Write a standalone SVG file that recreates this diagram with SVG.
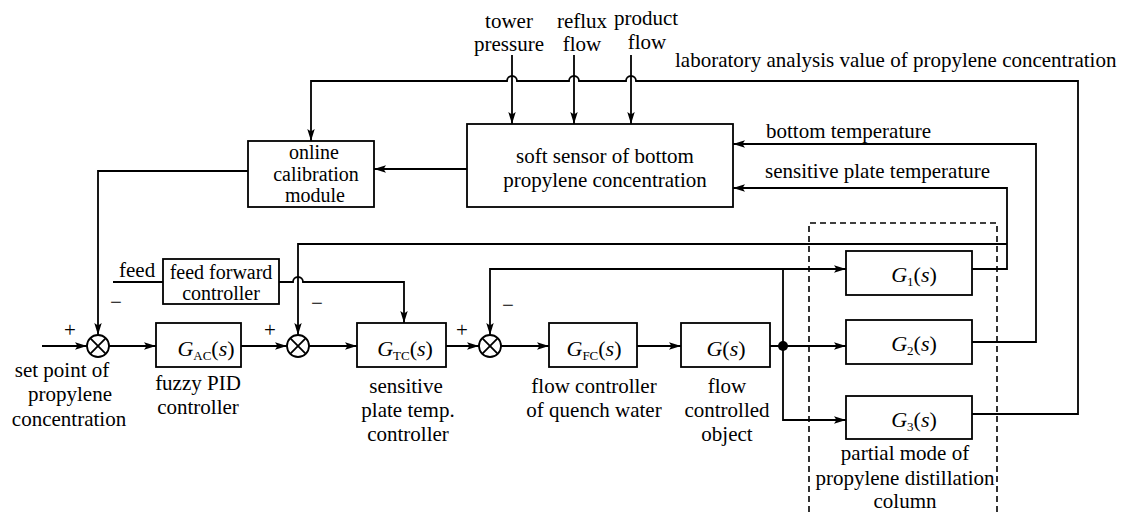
<svg xmlns="http://www.w3.org/2000/svg" width="1124" height="512" viewBox="0 0 1124 512">
<style>
.b{fill:none;stroke:#000;stroke-width:1.8}
.c{fill:none;stroke:#000;stroke-width:1.8}
.a{marker-end:url(#ar)}
.d{fill:none;stroke:#000;stroke-width:1.6;stroke-dasharray:6 4}
text{font-family:'Liberation Serif','DejaVu Serif',serif;font-size:21px;fill:#000}
.m{text-anchor:middle}
.g{font-size:22px}
.i{font-style:italic}
.s{font-size:13px}
.t{font-size:20px}
</style>
<defs>
<marker id="ar" markerUnits="userSpaceOnUse" markerWidth="13" markerHeight="8" refX="12" refY="4" orient="auto">
<path d="M0,0.3 L12,4 L0,7.7 L2.5,4 z" fill="#000"/>
</marker>
</defs>
<rect width="1124" height="512" fill="#fff"/>

<g id="connectors">
<path class="c a" d="M42,346 H87"/>
<path class="c a" d="M109,346 H156"/>
<path class="c a" d="M241,346 H287"/>
<path class="c a" d="M309,346 H357"/>
<path class="c a" d="M446,346 H479"/>
<path class="c a" d="M501,346 H549"/>
<path class="c a" d="M637,346 H681"/>
<path class="c a" d="M770,346 H846"/>
<path class="c a" d="M783,269 V420 H846"/>
<path class="c a" d="M783,269 H846"/>
<path class="c a" d="M783,269 H490 V335"/>
<circle cx="783" cy="346" r="5" fill="#000"/>
<path class="c a" d="M972,269 H1007 V188 H733"/>
<path class="c a" d="M1007,244 H298 V335"/>
<path class="c a" d="M972,342 H1036 V144 H733"/>
<path class="c a" d="M972,414 H1078 V81 H636 A5,5 0 0 0 626,81 H579 A5,5 0 0 0 569,81 H517 A5,5 0 0 0 507,81 H311 V141"/>
<path class="c a" d="M512,55 V124"/>
<path class="c a" d="M574,55 V124"/>
<path class="c a" d="M631,55 V124"/>
<path class="c a" d="M467,169 H374"/>
<path class="c a" d="M248,171 H98 V335"/>
<path class="c" d="M113,282 H163"/>
<path class="c a" d="M279,282 H293 A5,5 0 0 1 303,282 H404 V323"/>
</g>

<g id="sum1"><circle class="b" cx="98" cy="346" r="11"/><path class="b" d="M90.2,338.2 L105.8,353.8 M105.8,338.2 L90.2,353.8"/></g>
<g id="sum2"><circle class="b" cx="298" cy="346" r="11"/><path class="b" d="M290.2,338.2 L305.8,353.8 M305.8,338.2 L290.2,353.8"/></g>
<g id="sum3"><circle class="b" cx="490" cy="346" r="11"/><path class="b" d="M482.2,338.2 L497.8,353.8 M497.8,338.2 L482.2,353.8"/></g>

<g id="signs">
<text class="m" x="70" y="337">+</text>
<text class="m" x="116" y="309">−</text>
<text class="m" x="270" y="337">+</text>
<text class="m" x="317" y="310">−</text>
<text class="m" x="462" y="337">+</text>
<text class="m" x="508" y="312">−</text>
</g>

<g id="inputs-top">
<text class="m" x="509" y="28">tower</text>
<text class="m" x="509" y="51">pressure</text>
<text class="m" x="582" y="28">reflux</text>
<text class="m" x="582" y="51">flow</text>
<text class="m" x="646" y="25">product</text>
<text class="m" x="647" y="49">flow</text>
<text x="675" y="67">laboratory analysis value of propylene concentration</text>
<text x="766" y="138">bottom temperature</text>
<text x="765" y="178">sensitive plate temperature</text>
</g>

<g id="softsensor">
<rect class="b" x="467" y="124" width="266" height="83"/>
<text class="m" x="605" y="163">soft sensor of bottom</text>
<text class="m" x="605" y="187">propylene concentration</text>
</g>

<g id="calibration">
<rect class="b" x="248" y="141" width="126" height="66"/>
<text class="m t" x="314" y="159">online</text>
<text class="m t" x="316" y="181">calibration</text>
<text class="m t" x="315" y="202">module</text>
</g>

<g id="feedforward">
<text x="119" y="277">feed</text>
<rect class="b" x="163" y="259" width="116" height="45"/>
<text class="m t" x="221" y="279">feed forward</text>
<text class="m t" x="221" y="300">controller</text>
</g>

<g id="setpoint">
<text class="m" x="62" y="377">set point of</text>
<text class="m" x="70" y="401">propylene</text>
<text class="m" x="69" y="426">concentration</text>
</g>

<g id="GAC">
<rect class="b" x="156" y="323" width="85" height="44"/>
<text class="m g" x="206" y="356"><tspan class="i">G</tspan><tspan class="s" dy="4">AC</tspan><tspan dy="-4">(</tspan><tspan class="i">s</tspan>)</text>
<text class="m" x="198" y="390">fuzzy PID</text>
<text class="m" x="198" y="414">controller</text>
</g>

<g id="GTC">
<rect class="b" x="357" y="323" width="89" height="44"/>
<text class="m g" x="405" y="356"><tspan class="i">G</tspan><tspan class="s" dy="4">TC</tspan><tspan dy="-4">(</tspan><tspan class="i">s</tspan>)</text>
<text class="m" x="406" y="393">sensitive</text>
<text class="m" x="408" y="417">plate temp.</text>
<text class="m" x="408" y="441">controller</text>
</g>

<g id="GFC">
<rect class="b" x="549" y="323" width="88" height="44"/>
<text class="m g" x="594" y="356"><tspan class="i">G</tspan><tspan class="s" dy="4">FC</tspan><tspan dy="-4">(</tspan><tspan class="i">s</tspan>)</text>
<text class="m" x="594" y="393">flow controller</text>
<text class="m" x="594" y="417">of quench water</text>
</g>

<g id="G">
<rect class="b" x="681" y="323" width="89" height="44"/>
<text class="m g" x="726" y="356"><tspan class="i">G</tspan>(<tspan class="i">s</tspan>)</text>
<text class="m" x="727" y="393">flow</text>
<text class="m" x="727" y="417">controlled</text>
<text class="m" x="727" y="441">object</text>
</g>

<g id="G1">
<rect class="b" x="846" y="251" width="126" height="44"/>
<text class="m g" x="914" y="282"><tspan class="i">G</tspan><tspan class="s" dy="4">1</tspan><tspan dy="-4">(</tspan><tspan class="i">s</tspan>)</text>
</g>
<g id="G2">
<rect class="b" x="846" y="320" width="126" height="44"/>
<text class="m g" x="914" y="351"><tspan class="i">G</tspan><tspan class="s" dy="4">2</tspan><tspan dy="-4">(</tspan><tspan class="i">s</tspan>)</text>
</g>
<g id="G3">
<rect class="b" x="846" y="396" width="126" height="43"/>
<text class="m g" x="914" y="427"><tspan class="i">G</tspan><tspan class="s" dy="4">3</tspan><tspan dy="-4">(</tspan><tspan class="i">s</tspan>)</text>
</g>

<g id="column">
<path class="d" d="M809,512 V223 H997 V512"/>
<text class="m" x="905" y="460">partial mode of</text>
<text class="m" x="905" y="485">propylene distillation</text>
<text class="m" x="905" y="508">column</text>
</g>
</svg>
